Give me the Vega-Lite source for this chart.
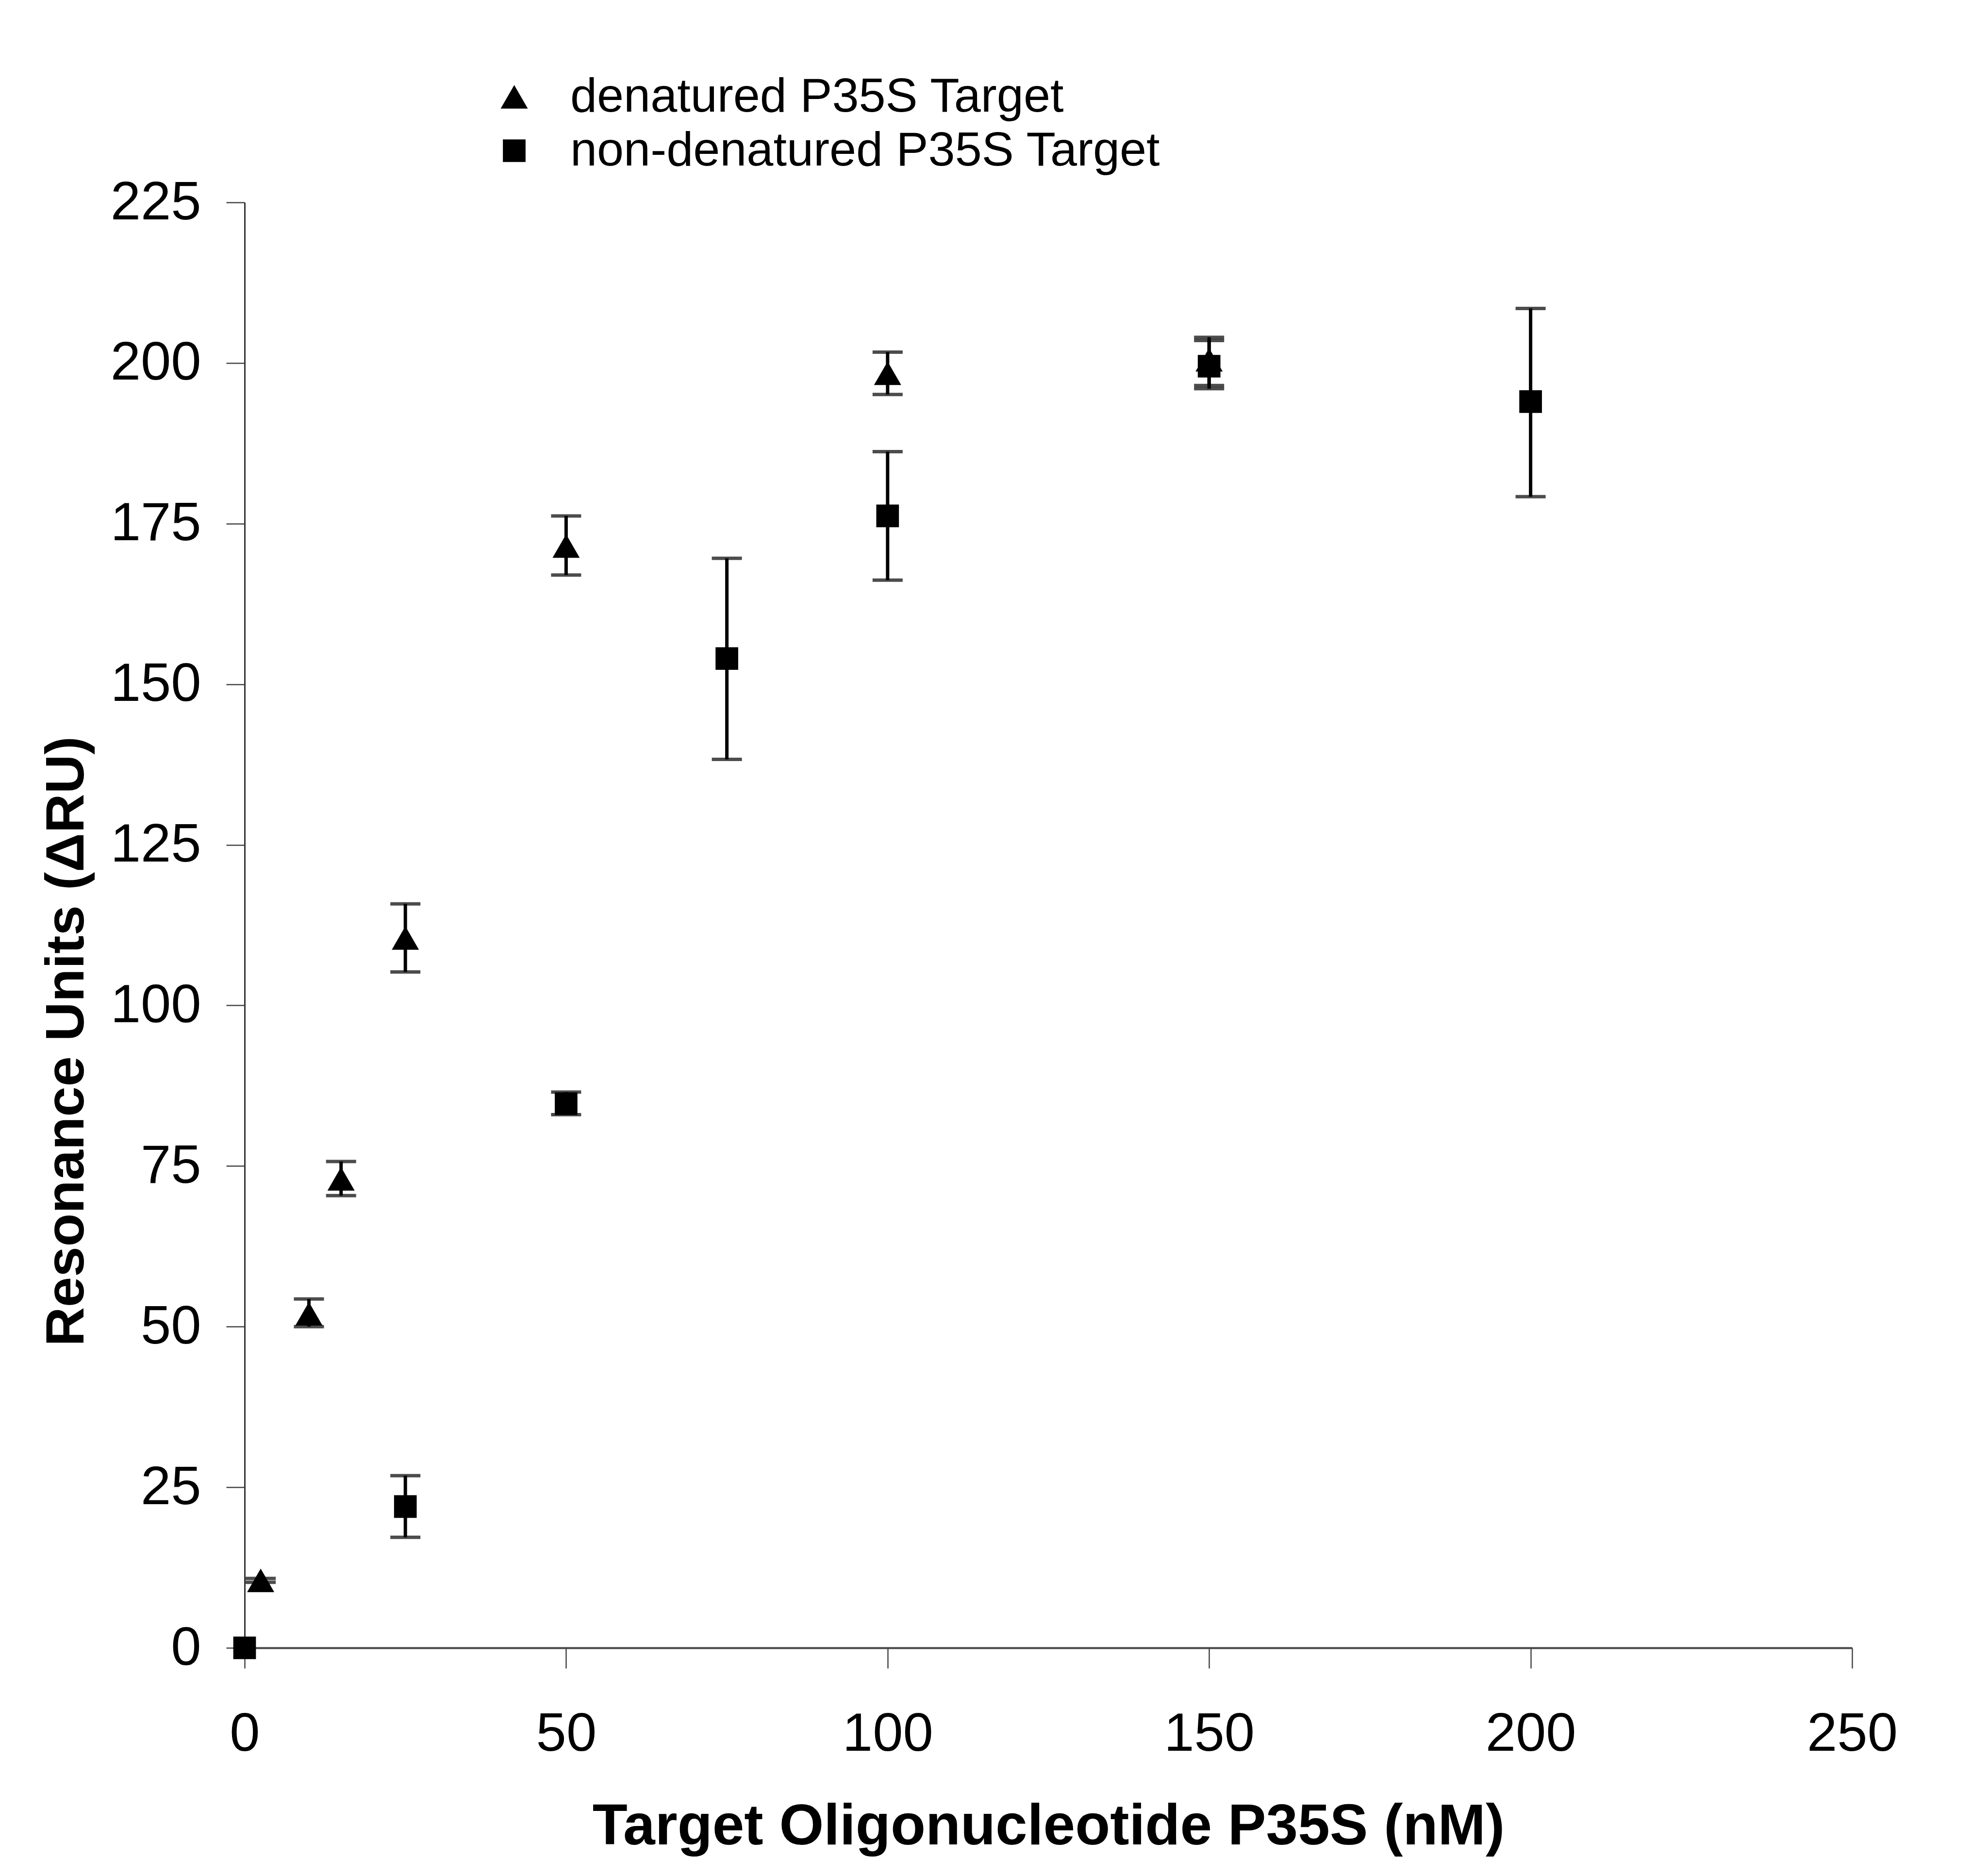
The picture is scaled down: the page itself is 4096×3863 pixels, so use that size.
{
  "$schema": "https://vega.github.io/schema/vega-lite/v6.json",
  "autosize": {"type": "none"},
  "width": 3312,
  "height": 2978,
  "padding": {"left": 504, "top": 417, "right": 280, "bottom": 468},
  "background": "white",
  "config": {
    "view": {"stroke": null},
    "font": "Liberation Sans",
    "axis": {"grid": false, "labelColor": "black", "titleColor": "black", "labelLimit": 0}
  },
  "data": {
    "values": [
      {"series": "denatured P35S Target", "nM": 2.5, "ru": 10.5, "lo": 10.2, "hi": 10.8},
      {"series": "denatured P35S Target", "nM": 10, "ru": 52, "lo": 50, "hi": 54.3},
      {"series": "denatured P35S Target", "nM": 15, "ru": 73, "lo": 70.4, "hi": 75.7},
      {"series": "denatured P35S Target", "nM": 25, "ru": 110.5, "lo": 105.2, "hi": 115.8},
      {"series": "denatured P35S Target", "nM": 50, "ru": 171.5, "lo": 167, "hi": 176.2},
      {"series": "denatured P35S Target", "nM": 100, "ru": 198.4, "lo": 195.1, "hi": 201.7},
      {"series": "denatured P35S Target", "nM": 150, "ru": 200.5, "lo": 196.5, "hi": 204},
      {"series": "non-denatured P35S Target", "nM": 0, "ru": 0, "lo": null, "hi": null},
      {"series": "non-denatured P35S Target", "nM": 25, "ru": 22, "lo": 17.2, "hi": 26.8},
      {"series": "non-denatured P35S Target", "nM": 50, "ru": 84.7, "lo": 83, "hi": 86.5},
      {"series": "non-denatured P35S Target", "nM": 75, "ru": 154, "lo": 138.3, "hi": 169.6},
      {"series": "non-denatured P35S Target", "nM": 100, "ru": 176.2, "lo": 166.2, "hi": 186.2},
      {"series": "non-denatured P35S Target", "nM": 150, "ru": 199.5, "lo": 196, "hi": 203.5},
      {"series": "non-denatured P35S Target", "nM": 200, "ru": 194, "lo": 179.2, "hi": 208.5}
    ]
  },
  "encoding": {
    "x": {
      "field": "nM",
      "type": "quantitative",
      "scale": {"domain": [0, 250], "nice": false, "zero": false},
      "axis": {
        "values": [0, 50, 100, 150, 200, 250],
        "title": "Target Oligonucleotide P35S (nM)",
        "domainColor": "#444",
        "domainWidth": 4,
        "tickColor": "#444",
        "tickWidth": 2.5,
        "tickSize": 42,
        "labelFontSize": 112,
        "labelBaseline": "alphabetic",
        "labelPadding": 169,
        "labelFlush": false,
        "labelOverlap": false,
        "titleFontSize": 118,
        "titleFontWeight": "bold",
        "titleBaseline": "alphabetic",
        "titleY": 404
      }
    },
    "y": {
      "field": "ru",
      "type": "quantitative",
      "scale": {"domain": [0, 225], "nice": false},
      "axis": {
        "values": [0, 25, 50, 75, 100, 125, 150, 175, 200, 225],
        "title": "Resonance Units (ΔRU)",
        "domainColor": "#333",
        "domainWidth": 3,
        "tickColor": "#444",
        "tickWidth": 2.5,
        "tickSize": 38,
        "labelFontSize": 112,
        "labelPadding": 52,
        "labelFlush": false,
        "labelOverlap": false,
        "titleFontSize": 112,
        "titleFontWeight": "bold",
        "titleBaseline": "alphabetic",
        "titleAngle": -90,
        "titleAlign": "center",
        "titleX": -333,
        "titleY": 1728
      }
    }
  },
  "layer": [
    {
      "transform": [{"filter": "datum.lo != null"}],
      "mark": {"type": "errorbar", "ticks": true, "size": 62, "thickness": 7, "color": "black"},
      "encoding": {
        "y": {
          "field": "lo",
          "type": "quantitative",
          "scale": {"domain": [0, 225], "nice": false},
          "title": "Resonance Units (ΔRU)"
        },
        "y2": {"field": "hi"}
      }
    },
    {
      "mark": {"type": "point", "filled": true, "opacity": 1, "color": "black", "strokeWidth": 0, "clip": false},
      "encoding": {
        "shape": {
          "field": "series",
          "type": "nominal",
          "scale": {
            "domain": ["denatured P35S Target", "non-denatured P35S Target"],
            "range": ["triangle-up", "square"]
          },
          "legend": {
            "title": null,
            "orient": "none",
            "legendX": 506,
            "legendY": -267,
            "padding": 0,
            "labelFontSize": 99,
            "labelColor": "black",
            "labelOffset": 66,
            "labelLimit": 0,
            "rowPadding": 11,
            "symbolFillColor": "black",
            "symbolStrokeColor": "black",
            "symbolStrokeWidth": 0
          }
        },
        "size": {
          "field": "series",
          "type": "nominal",
          "scale": {
            "domain": ["denatured P35S Target", "non-denatured P35S Target"],
            "range": [3136, 2180]
          },
          "legend": {
            "title": null,
            "orient": "none",
            "legendX": 506,
            "legendY": -267,
            "padding": 0,
            "labelFontSize": 99,
            "labelColor": "black",
            "labelOffset": 66,
            "labelLimit": 0,
            "rowPadding": 11,
            "symbolFillColor": "black",
            "symbolStrokeColor": "black",
            "symbolStrokeWidth": 0
          }
        }
      }
    }
  ]
}
